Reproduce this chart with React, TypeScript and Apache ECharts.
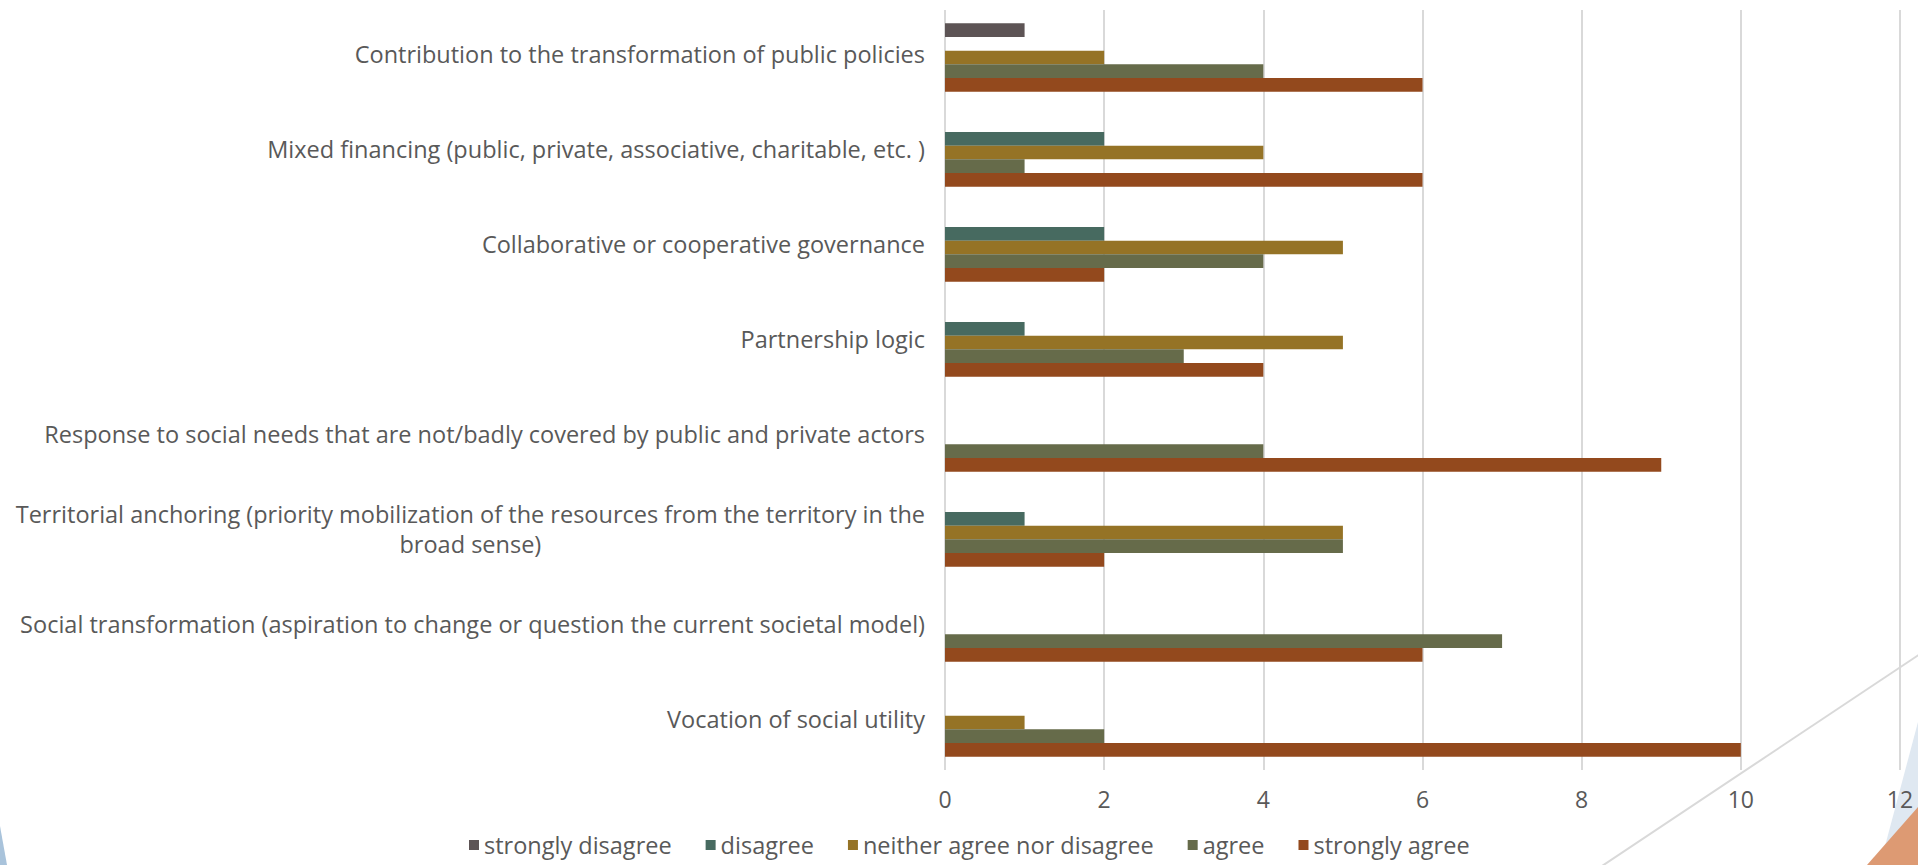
import React, { useEffect, useRef } from "react";
import * as echarts from "echarts";

const categories = [
  "Contribution to the transformation of public policies",
  "Mixed financing (public, private, associative, charitable, etc. )",
  "Collaborative or cooperative governance",
  "Partnership logic",
  "Response to social needs that are not/badly covered by public and private actors",
  "Territorial anchoring (priority mobilization of the resources from the territory in the broad sense)",
  "Social transformation (aspiration to change or question the current societal model)",
  "Vocation of social utility",
];

const seriesNames = [
  "strongly disagree",
  "disagree",
  "neither agree nor disagree",
  "agree",
  "strongly agree",
];

const stronglyDisagree = [1, 0, 0, 0, 0, 0, 0, 0];
const disagree = [0, 2, 2, 1, 0, 1, 0, 0];
const neither = [2, 4, 5, 5, 0, 5, 0, 1];
const agree = [4, 1, 4, 3, 4, 5, 7, 2];
const stronglyAgree = [6, 6, 2, 4, 9, 2, 6, 10];

const xTicks = [0, 2, 4, 6, 8, 10, 12];

const colors = ["#5d5455", "#476a60", "#957326", "#666b4a", "#93491d"];
const FONT = "Open Sans";
const TEXT = "#595959";
const LABEL_SIZE = 23.5;

export default function App() {
  const ref = useRef<HTMLDivElement>(null);

  useEffect(() => {
    if (!ref.current) return;
    const chart = echarts.init(ref.current, undefined, { renderer: "svg" });
    const values = [stronglyDisagree, disagree, neither, agree, stronglyAgree];

    chart.setOption({
      animation: false,
      backgroundColor: "#ffffff",
      textStyle: { fontFamily: FONT, color: TEXT },
      grid: { left: 945, right: 18, top: 10, bottom: 95, containLabel: false },
      legend: {
        data: seriesNames,
        bottom: 8,
        left: 469,
        padding: 0,
        itemWidth: 10,
        itemHeight: 10,
        itemGap: 34,
        icon: "rect",
        textStyle: { fontFamily: FONT, fontSize: 23.5, color: TEXT },
      },
      xAxis: {
        type: "value",
        min: xTicks[0],
        max: xTicks[xTicks.length - 1],
        interval: 2,
        axisLine: { show: false },
        axisTick: { show: false },
        splitLine: { show: true, lineStyle: { color: "#d9d9d9", width: 2 } },
        axisLabel: { fontFamily: FONT, fontSize: 23, color: TEXT, margin: 17 },
      },
      yAxis: {
        type: "category",
        inverse: true,
        data: categories,
        axisLine: { show: false },
        axisTick: { show: false },
        splitLine: { show: false },
        axisLabel: {
          fontFamily: FONT,
          fontSize: LABEL_SIZE,
          color: TEXT,
          margin: 20,
          lineHeight: 29,
          padding: [0, 0, 8, 0],
          formatter: (v: string) => {
            const cut = " broad sense)";
            if (v.endsWith(cut)) {
              const l1 = v.slice(0, v.length - cut.length);
              const l2 = cut.trim();
              return `{c|${l1}}\n{c|${l2}}`;
            }
            return v;
          },
          rich: {
            c: {
              align: "center",
              fontFamily: FONT,
              fontSize: LABEL_SIZE,
              color: TEXT,
              lineHeight: 30,
            },
          },
        },
      },
      graphic: [
        {
          type: "polygon",
          z: -10,
          silent: true,
          shape: { points: [[0, 826], [7, 865], [0, 865]] },
          style: { fill: "#a9c3db" },
        },
        {
          type: "polygon",
          z: -10,
          silent: true,
          shape: { points: [[1918, 722], [1918, 865], [1880, 865]] },
          style: { fill: "#dfe8f1" },
        },
        {
          type: "polygon",
          z: -9,
          silent: true,
          shape: { points: [[1918, 807], [1918, 865], [1867, 865]] },
          style: { fill: "#dd9a73" },
        },
        {
          type: "line",
          z: -8,
          silent: true,
          shape: { x1: 1602, y1: 866, x2: 1920, y2: 654 },
          style: { stroke: "#d9d9d9", lineWidth: 2 },
        },
      ],
      series: seriesNames.map((name, i) => ({
        name,
        type: "bar",
        data: values[i],
        barGap: "0%",
        barCategoryGap: "28%",
        itemStyle: { color: colors[i] },
      })),
    });

    return () => chart.dispose();
  }, []);

  return (
    <div
      ref={ref}
      style={{ position: "fixed", left: 0, top: 0, width: 1918, height: 865 }}
    />
  );
}
